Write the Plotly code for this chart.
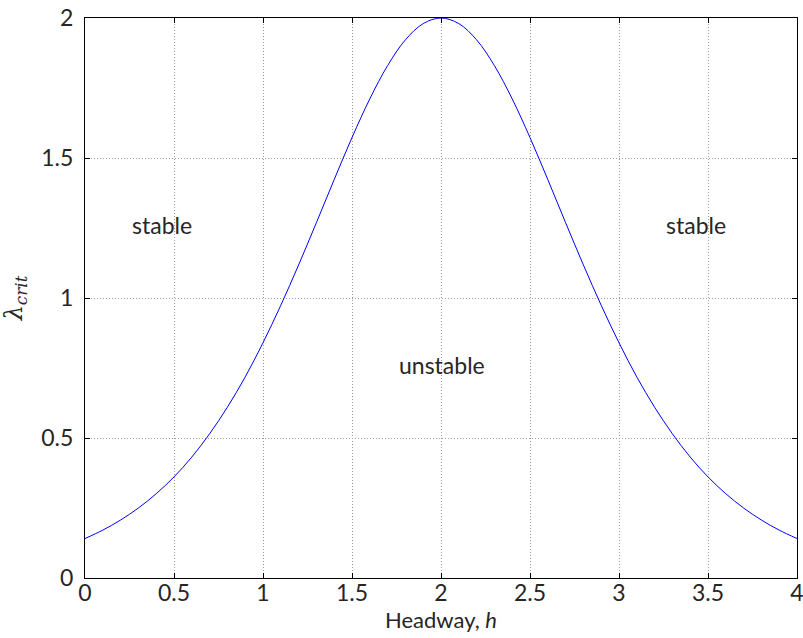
import plotly.graph_objects as go

headway = [0.0, 0.1, 0.2, 0.3, 0.4, 0.5, 0.6, 0.7, 0.8, 0.9,
           1.0, 1.1, 1.2, 1.3, 1.4, 1.5, 1.6, 1.7, 1.8, 1.9,
           2.0, 2.1, 2.2, 2.3, 2.4, 2.5, 2.6, 2.7, 2.8, 2.9,
           3.0, 3.1, 3.2, 3.3, 3.4, 3.5, 3.6, 3.7, 3.8, 3.9, 4.0]
lambda_crit = [0.141, 0.171, 0.207, 0.250, 0.301, 0.361, 0.432, 0.515, 0.610, 0.718,
               0.840, 0.974, 1.118, 1.269, 1.423, 1.573, 1.711, 1.830, 1.922, 1.980,
               2.000, 1.980, 1.922, 1.830, 1.711, 1.573, 1.423, 1.269, 1.118, 0.974,
               0.840, 0.718, 0.610, 0.515, 0.432, 0.361, 0.301, 0.250, 0.207, 0.171, 0.141]

region_labels = ["stable", "unstable", "stable"]
region_x = [0.25, 1.75, 3.25]
region_y = [1.25, 0.75, 1.25]

x_ticks = [0, 0.5, 1, 1.5, 2, 2.5, 3, 3.5, 4]
x_tick_text = ["0", "0.5", "1", "1.5", "2", "2.5", "3", "3.5", "4"]
y_ticks = [0, 0.5, 1, 1.5, 2]
y_tick_text = ["0", "0.5", "1", "1.5", "2"]

font_family = "Lato, DejaVu Sans, sans-serif"
text_color = "#262626"

fig = go.Figure()
fig.add_trace(go.Scatter(x=headway, y=lambda_crit, mode="lines",
                         line=dict(color="#0000ff", width=1, shape="spline"),
                         showlegend=False, hoverinfo="skip"))

for t, x, y in zip(region_labels, region_x, region_y):
    fig.add_annotation(x=x, y=y, text=t, showarrow=False, xanchor="left",
                       yanchor="middle", yshift=3,
                       font=dict(size=23, color=text_color, family=font_family))

axis_common = dict(showline=True, linecolor="#000000", linewidth=1, mirror="ticks",
                   ticks="inside", ticklen=5, tickcolor="#000000",
                   showgrid=True, gridcolor="#9a9a9a", griddash="1px,2px", gridwidth=1,
                   zeroline=False, automargin=False, ticklabeloverflow="allow",
                   tickfont=dict(size=23, color=text_color, family=font_family))

fig.update_xaxes(range=[0, 4], tickvals=x_ticks, ticktext=x_tick_text,
                 ticklabelstandoff=-6,
                 title=dict(text="Headway, <i>h</i>", font=dict(size=22, color=text_color, family=font_family),
                            standoff=0),
                 **axis_common)
fig.update_yaxes(range=[0, 2], tickvals=y_ticks, ticktext=y_tick_text,
                 ticklabelstandoff=6,
                 title=dict(text="<i>λ</i><sub><i>crit</i></sub>", font=dict(size=24, color=text_color, family="DejaVu Serif, serif"),
                            standoff=12),
                 **axis_common)

fig.update_layout(width=803, height=638, plot_bgcolor="#ffffff", paper_bgcolor="#ffffff",
                  margin=dict(l=85, r=6, t=18, b=60))

fig.write_html("out.html")
